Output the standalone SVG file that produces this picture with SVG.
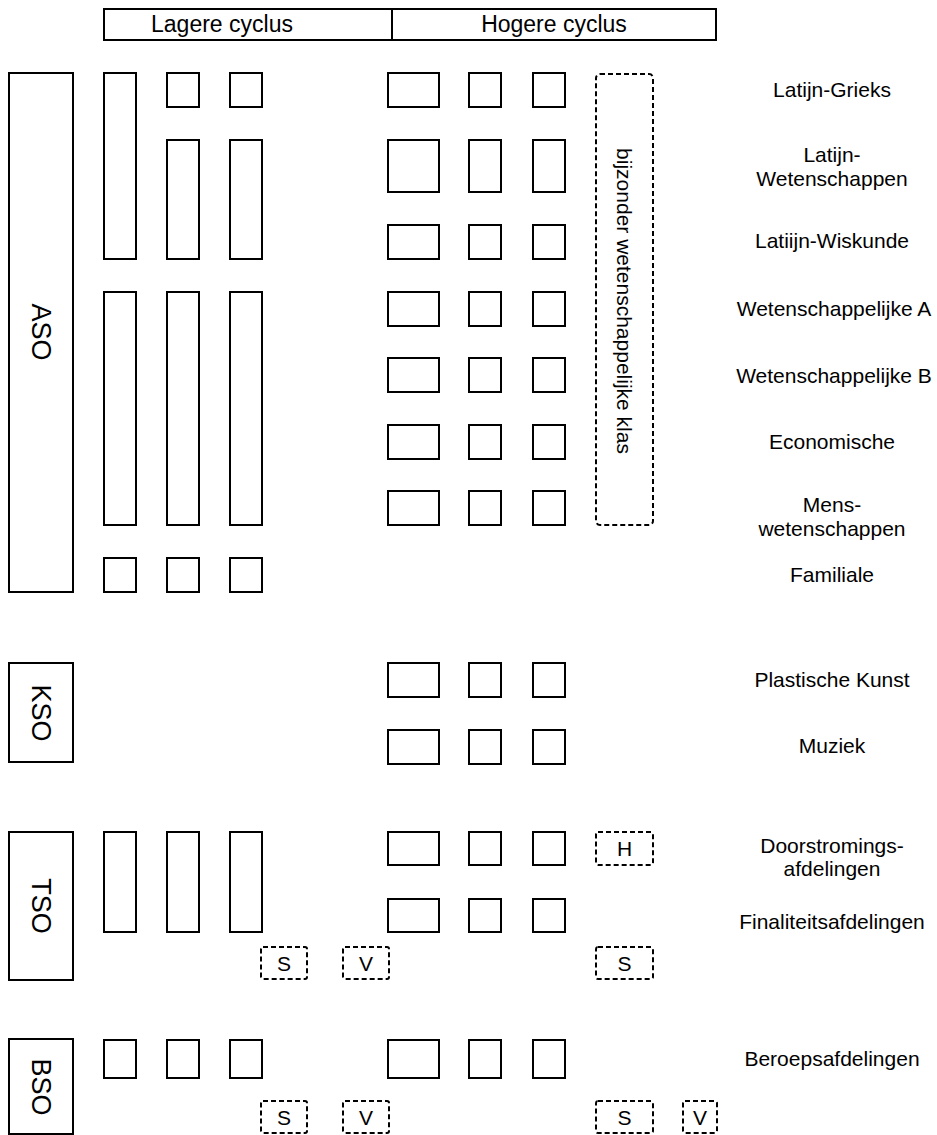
<svg xmlns="http://www.w3.org/2000/svg" width="937" height="1135" viewBox="0 0 937 1135">
<style>
.b{fill:#fff;stroke:#000;stroke-width:2}
.d{fill:#fff;stroke:#000;stroke-width:2;stroke-dasharray:5 3}
.t{font-family:"Liberation Sans",Arial,sans-serif;font-size:21px;fill:#000;text-anchor:middle}
.h{font-family:"Liberation Sans",Arial,sans-serif;font-size:23px;fill:#000;text-anchor:middle}
.r{font-family:"Liberation Sans",Arial,sans-serif;font-size:27px;fill:#000;text-anchor:middle}
</style>
<rect width="937" height="1135" fill="#fff"/>
<g id="header">
<rect class="b" x="104" y="9" width="612" height="31"/>
<line x1="392" y1="9" x2="392" y2="40" stroke="#000" stroke-width="2"/>
<text class="h" x="222" y="32">Lagere cyclus</text>
<text class="h" x="554" y="32">Hogere cyclus</text>
</g>
<g id="aso">
<rect class="b" x="9" y="73" width="64" height="519"/>
<text class="r" transform="translate(32,332) rotate(90)">ASO</text>
</g>
<g id="aso-lower">
<rect class="b" x="104" y="73" width="32" height="186"/>
<rect class="b" x="167" y="73" width="32" height="34"/>
<rect class="b" x="230" y="73" width="32" height="34"/>
<rect class="b" x="167" y="140" width="32" height="119"/>
<rect class="b" x="230" y="140" width="32" height="119"/>
<rect class="b" x="104" y="292" width="32" height="233"/>
<rect class="b" x="167" y="292" width="32" height="233"/>
<rect class="b" x="230" y="292" width="32" height="233"/>
<rect class="b" x="104" y="558" width="32" height="34"/>
<rect class="b" x="167" y="558" width="32" height="34"/>
<rect class="b" x="230" y="558" width="32" height="34"/>
</g>
<g id="aso-upper">
<rect class="b" x="388" y="73" width="51" height="34"/>
<rect class="b" x="469" y="73" width="32" height="34"/>
<rect class="b" x="533" y="73" width="32" height="34"/>
<rect class="b" x="388" y="140" width="51" height="52"/>
<rect class="b" x="469" y="140" width="32" height="52"/>
<rect class="b" x="533" y="140" width="32" height="52"/>
<rect class="b" x="388" y="225" width="51" height="34"/>
<rect class="b" x="469" y="225" width="32" height="34"/>
<rect class="b" x="533" y="225" width="32" height="34"/>
<rect class="b" x="388" y="292" width="51" height="34"/>
<rect class="b" x="469" y="292" width="32" height="34"/>
<rect class="b" x="533" y="292" width="32" height="34"/>
<rect class="b" x="388" y="358" width="51" height="34"/>
<rect class="b" x="469" y="358" width="32" height="34"/>
<rect class="b" x="533" y="358" width="32" height="34"/>
<rect class="b" x="388" y="425" width="51" height="34"/>
<rect class="b" x="469" y="425" width="32" height="34"/>
<rect class="b" x="533" y="425" width="32" height="34"/>
<rect class="b" x="388" y="491" width="51" height="34"/>
<rect class="b" x="469" y="491" width="32" height="34"/>
<rect class="b" x="533" y="491" width="32" height="34"/>
</g>
<g id="bwk">
<rect class="d" x="596" y="74" width="57" height="451" rx="4"/>
<text class="t" transform="translate(617,301) rotate(90)">bijzonder wetenschappelijke klas</text>
</g>
<g id="aso-labels">
<text class="t" x="832" y="97">Latijn-Grieks</text>
<text class="t" x="832" y="162">Latijn-</text>
<text class="t" x="832" y="186">Wetenschappen</text>
<text class="t" x="832" y="248">Latiijn-Wiskunde</text>
<text class="t" x="834" y="316">Wetenschappelijke A</text>
<text class="t" x="834" y="383">Wetenschappelijke B</text>
<text class="t" x="832" y="449">Economische</text>
<text class="t" x="832" y="512">Mens-</text>
<text class="t" x="832" y="536">wetenschappen</text>
<text class="t" x="832" y="582">Familiale</text>
</g>
<g id="kso">
<rect class="b" x="9" y="663" width="64" height="99"/>
<text class="r" transform="translate(32,713) rotate(90)">KSO</text>
<rect class="b" x="388" y="663" width="51" height="34"/>
<rect class="b" x="469" y="663" width="32" height="34"/>
<rect class="b" x="533" y="663" width="32" height="34"/>
<rect class="b" x="388" y="730" width="51" height="34"/>
<rect class="b" x="469" y="730" width="32" height="34"/>
<rect class="b" x="533" y="730" width="32" height="34"/>
<text class="t" x="832" y="687">Plastische Kunst</text>
<text class="t" x="832" y="753">Muziek</text>
</g>
<g id="tso">
<rect class="b" x="9" y="832" width="64" height="148"/>
<text class="r" transform="translate(32,906) rotate(90)">TSO</text>
<rect class="b" x="104" y="832" width="32" height="100"/>
<rect class="b" x="167" y="832" width="32" height="100"/>
<rect class="b" x="230" y="832" width="32" height="100"/>
<rect class="b" x="388" y="832" width="51" height="33"/>
<rect class="b" x="469" y="832" width="32" height="33"/>
<rect class="b" x="533" y="832" width="32" height="33"/>
<rect class="d" x="596" y="832" width="57" height="33" rx="2"/>
<text class="t" x="624.5" y="856">H</text>
<rect class="b" x="388" y="899" width="51" height="33"/>
<rect class="b" x="469" y="899" width="32" height="33"/>
<rect class="b" x="533" y="899" width="32" height="33"/>
<rect class="d" x="261" y="947" width="46" height="32" rx="2"/>
<text class="t" x="284" y="971">S</text>
<rect class="d" x="343" y="947" width="46" height="32" rx="2"/>
<text class="t" x="366" y="971">V</text>
<rect class="d" x="596" y="947" width="57" height="32" rx="2"/>
<text class="t" x="624.5" y="971">S</text>
<text class="t" x="832" y="853">Doorstromings-</text>
<text class="t" x="832" y="876">afdelingen</text>
<text class="t" x="832" y="929">Finaliteitsafdelingen</text>
</g>
<g id="bso">
<rect class="b" x="9" y="1039" width="64" height="95"/>
<text class="r" transform="translate(32,1087) rotate(90)">BSO</text>
<rect class="b" x="104" y="1040" width="32" height="38"/>
<rect class="b" x="167" y="1040" width="32" height="38"/>
<rect class="b" x="230" y="1040" width="32" height="38"/>
<rect class="b" x="388" y="1040" width="51" height="38"/>
<rect class="b" x="469" y="1040" width="32" height="38"/>
<rect class="b" x="533" y="1040" width="32" height="38"/>
<rect class="d" x="261" y="1101" width="46" height="32" rx="2"/>
<text class="t" x="284" y="1125">S</text>
<rect class="d" x="343" y="1101" width="46" height="32" rx="2"/>
<text class="t" x="366" y="1125">V</text>
<rect class="d" x="596" y="1101" width="57" height="32" rx="2"/>
<text class="t" x="624.5" y="1125">S</text>
<rect class="d" x="683" y="1101" width="34" height="32" rx="2"/>
<text class="t" x="700" y="1125">V</text>
<text class="t" x="832" y="1066">Beroepsafdelingen</text>
</g>
<g id="connectors"></g>
</svg>
